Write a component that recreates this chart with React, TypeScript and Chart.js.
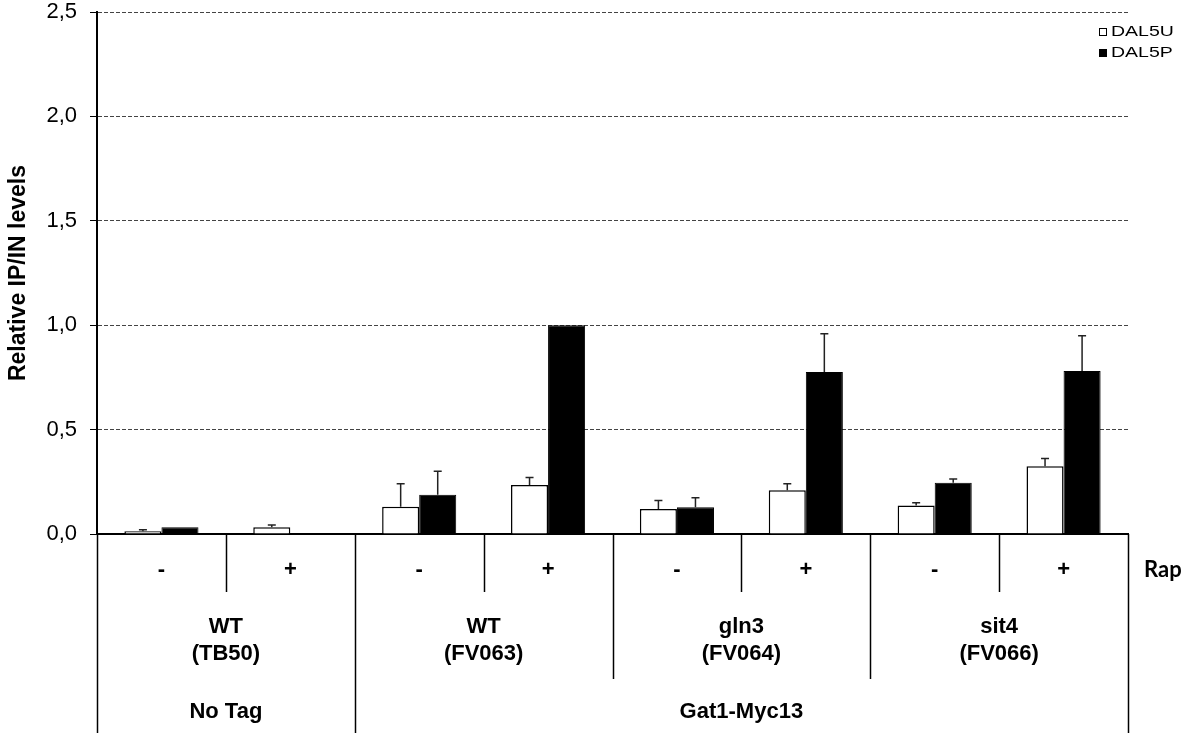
import React, { useEffect, useRef } from "react";
import { Chart, registerables } from "chart.js";

Chart.register(...registerables);

// ---- data ----
const categories = ["TB50 -", "TB50 +", "FV063 -", "FV063 +", "FV064 -", "FV064 +", "FV066 -", "FV066 +"];
const rapLabels = ["-", "+", "-", "+", "-", "+", "-", "+"];
const strainLabels = [
  ["WT", "(TB50)"],
  ["WT", "(FV063)"],
  ["gln3", "(FV064)"],
  ["sit4", "(FV066)"],
];
const tagLabels = ["No Tag", "Gat1-Myc13"];
const tagStrainCounts = [1, 3];
const seriesNames = ["DAL5U", "DAL5P"];
const dal5U = [0.013, 0.032, 0.131, 0.235, 0.12, 0.21, 0.137, 0.324];
const dal5UErr = [0.007, 0.011, 0.11, 0.035, 0.04, 0.031, 0.013, 0.037];
const dal5P = [0.032, 0, 0.188, 1.0, 0.128, 0.776, 0.246, 0.781];
const dal5PErr = [0, 0, 0.112, 0, 0.046, 0.183, 0.017, 0.169];
const yMin = 0;
const yMax = 2.5;
const yStep = 0.5;
const rapTitle = "Rap";
const yTitle = "Relative IP/IN levels";

const FONT = "'Liberation Sans', Arial, sans-serif";

const extrasPlugin = {
  id: "extras",
  afterDatasetsDraw(chart: any) {
    const ctx = chart.ctx;
    const y = chart.scales.y;
    const errs = [dal5UErr, dal5PErr];
    const vals = [dal5U, dal5P];
    ctx.save();
    ctx.strokeStyle = "#222";
    ctx.lineWidth = 1.5;
    for (let d = 0; d < 2; d++) {
      const meta = chart.getDatasetMeta(d);
      meta.data.forEach((bar: any, i: number) => {
        const e = errs[d][i];
        if (!e) return;
        const y0 = y.getPixelForValue(vals[d][i]);
        const y1 = y.getPixelForValue(vals[d][i] + e);
        ctx.beginPath();
        ctx.moveTo(bar.x, y0);
        ctx.lineTo(bar.x, y1);
        ctx.moveTo(bar.x - 4, y1);
        ctx.lineTo(bar.x + 4, y1);
        ctx.stroke();
      });
    }
    ctx.restore();
  },
  afterDraw(chart: any) {
    const ctx = chart.ctx;
    const xs = chart.scales.x;
    const area = chart.chartArea;
    const H = chart.height;
    const n = categories.length;
    const half = (xs.getPixelForValue(1) - xs.getPixelForValue(0)) / 2;
    const bound = (i: number) => xs.getPixelForValue(i) - half;
    const bottom = area.bottom;

    ctx.save();
    ctx.strokeStyle = "#000";
    ctx.lineWidth = 1.5;
    const tagBounds = new Set<number>();
    let acc = 0;
    tagBounds.add(0);
    tagStrainCounts.forEach((c) => {
      acc += c * 2;
      tagBounds.add(acc);
    });
    for (let i = 0; i <= n; i++) {
      let endY = bottom + 58;
      if (i % 2 === 0) endY = bottom + 145;
      if (tagBounds.has(i)) endY = H;
      const bx = Math.round(bound(i)) + 0.5;
      ctx.beginPath();
      ctx.moveTo(bx, bottom);
      ctx.lineTo(bx, endY);
      ctx.stroke();
    }

    ctx.fillStyle = "#000";
    ctx.textAlign = "center";
    ctx.textBaseline = "middle";
    ctx.font = `bold 22px ${FONT}`;
    rapLabels.forEach((lab, i) => {
      ctx.fillText(lab, xs.getPixelForValue(i), bottom + 36);
    });
    strainLabels.forEach((lines, s) => {
      const cx = (bound(s * 2) + bound(s * 2 + 2)) / 2;
      ctx.fillText(lines[0], cx, bottom + 93);
      ctx.fillText(lines[1], cx, bottom + 120);
    });
    let start = 0;
    tagLabels.forEach((lab, t) => {
      const end = start + tagStrainCounts[t] * 2;
      const cx = (bound(start) + bound(end)) / 2;
      ctx.fillText(lab, cx, bottom + 178);
      start = end;
    });
    ctx.textAlign = "left";
    ctx.font = `bold 22px Lato, 'Open Sans', sans-serif`;
    ctx.fillText(rapTitle, bound(n) + 16, bottom + 36);

    // legend
    ctx.font = `15px ${FONT}`;
    const lx = 1099;
    const ly = [32, 53];
    seriesNames.forEach((name, k) => {
      ctx.fillStyle = k === 0 ? "#fff" : "#000";
      ctx.strokeStyle = "#000";
      ctx.lineWidth = 1;
      ctx.fillRect(lx, ly[k] - 4, 8, 8);
      ctx.strokeRect(lx + 0.5, ly[k] - 3.5, 7, 7);
      ctx.fillStyle = "#000";
      ctx.save();
      ctx.translate(lx + 12, ly[k]);
      ctx.scale(1.3, 1);
      ctx.fillText(name, 0, 0);
      ctx.restore();
    });
    ctx.restore();
  },
};

export default function App() {
  const ref = useRef<HTMLCanvasElement>(null);
  useEffect(() => {
    if (!ref.current) return;
    const chart = new Chart(ref.current, {
      type: "bar",
      data: {
        labels: categories,
        datasets: [
          {
            label: seriesNames[0],
            data: dal5U,
            backgroundColor: "#fff",
            borderColor: "#000",
            borderWidth: 1.5,
            categoryPercentage: 0.575,
            barPercentage: 1,
          },
          {
            label: seriesNames[1],
            data: dal5P,
            backgroundColor: "#000",
            borderColor: "#000",
            borderWidth: 1,
            categoryPercentage: 0.575,
            barPercentage: 1,
          },
        ],
      },
      options: {
        responsive: false,
        maintainAspectRatio: false,
        animation: false,
        layout: { padding: { top: 12, right: 64, left: 0, bottom: 0 } },
        plugins: { legend: { display: false }, tooltip: { enabled: false } },
        scales: {
          x: {
            grid: { display: false, drawTicks: false },
            border: { display: true, color: "#000", width: 2 },
            ticks: { display: false },
            afterFit: (s: any) => {
              s.height = 199;
              s.paddingLeft = 0;
              s.paddingRight = 0;
            },
          },
          y: {
            min: yMin,
            max: yMax,
            ticks: {
              stepSize: yStep,
              color: "#000",
              padding: 13,
              font: { family: FONT, size: 22 },
              callback: (v: any) => Number(v).toFixed(1).replace(".", ","),
            },
            grid: { color: "#444", lineWidth: 1, tickLength: 7, tickColor: "#000" },
            border: { display: true, color: "#000", width: 2, dash: [4, 2] },
            title: {
              display: true,
              text: yTitle,
              color: "#000",
              font: { family: FONT, size: 23, weight: "bold" },
              padding: { top: 5, bottom: 4 },
            },
            afterFit: (s: any) => {
              s.width = 97;
              s.paddingTop = 0;
              s.paddingBottom = 0;
            },
          },
        },
      },
      plugins: [extrasPlugin],
    } as any);
    return () => chart.destroy();
  }, []);
  return (
    <div style={{ position: "fixed", left: 0, top: 0, width: 1192, height: 733, background: "#fff" }}>
      <canvas ref={ref} width={1192} height={733} style={{ width: 1192, height: 733, display: "block" }} />
    </div>
  );
}
